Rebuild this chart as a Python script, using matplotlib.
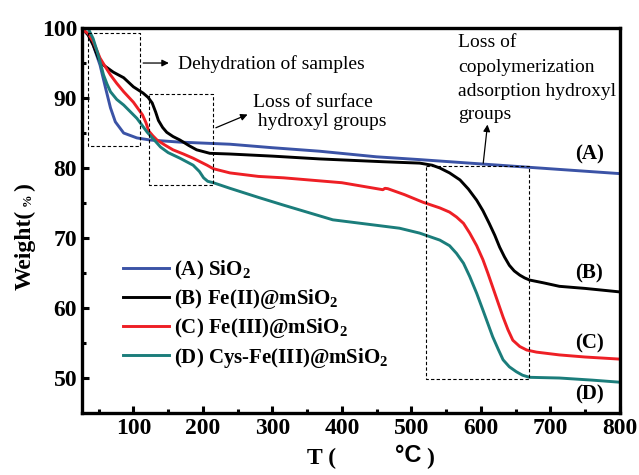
import matplotlib
matplotlib.use("Agg")
import matplotlib.pyplot as plt

plt.rcParams['font.family'] = ['Liberation Serif', 'DejaVu Serif']
plt.rcParams['mathtext.fontset'] = 'custom'
plt.rcParams['mathtext.rm'] = 'Liberation Serif'
plt.rcParams['mathtext.bf'] = 'Liberation Serif:bold'

# --- data ---
xA = [26, 35, 42, 52, 60, 67, 74, 86, 105, 124, 167, 239, 300, 368, 450, 512, 598, 713, 800]
yA = [100.0, 99.0, 97.6, 94.7, 91.4, 88.6, 86.6, 85.0, 84.3, 84.0, 83.7, 83.4, 82.9, 82.4, 81.6,
      81.2, 80.6, 79.8, 79.2]

xB = [26, 35, 42, 50, 57, 64, 71, 86, 100, 114, 121, 127, 132, 136, 142, 148, 157, 167, 180, 191,
      210, 239, 300, 368, 459, 512, 530, 541, 555, 570, 582, 594, 603, 612, 620, 627, 634, 641, 648,
      656, 663, 670, 690, 713, 750, 800]
yB = [100.0, 99.0, 97.6, 95.6, 94.7, 94.2, 93.7, 92.9, 91.6, 90.7, 90.1, 89.3, 88.0, 86.8, 85.8,
      85.1, 84.5, 84.0, 83.2, 82.6, 82.1, 82.0, 81.7, 81.3, 80.9, 80.7, 80.4, 80.0, 79.3, 78.3, 77.0,
      75.4, 73.9, 72.1, 70.4, 68.7, 67.3, 66.1, 65.3, 64.7, 64.3, 64.0, 63.6, 63.1, 62.8, 62.3]

xC = [26, 35, 42, 52, 60, 67, 76, 86, 100, 113, 118, 122, 128, 134, 145, 157, 172, 186, 206, 215,
      239, 280, 316, 400, 459, 462, 466, 490, 517, 541, 555, 565, 575, 584, 594, 603, 610, 617, 625,
      632, 639, 646, 656, 666, 680, 713, 750, 800]
yC = [99.8, 99.2, 98.1, 95.7, 94.4, 93.3, 92.1, 90.9, 89.4, 87.6, 86.5, 85.3, 84.6, 84.0, 83.3,
      82.6, 82.0, 81.4, 80.4, 79.9, 79.3, 78.8, 78.6, 77.9, 76.9, 77.1, 77.05, 76.2, 75.1, 74.3, 73.7,
      73.0, 72.1, 70.7, 68.9, 66.9, 65.0, 63.0, 60.7, 58.7, 56.9, 55.4, 54.5, 54.0, 53.7, 53.3, 53.0,
      52.7]

xD = [35, 42, 48, 53, 57, 62, 67, 76, 86, 105, 120, 130, 139, 150, 167, 186, 195, 201, 207, 215,
      239, 280, 316, 387, 483, 512, 541, 555, 565, 575, 584, 594, 603, 610, 617, 625, 632, 641, 651,
      660, 670, 713, 760, 800]
yD = [99.9, 98.5, 96.6, 94.8, 93.3, 92.0, 90.9, 89.8, 89.0, 87.1, 85.1, 84.0, 83.0, 82.2, 81.4,
      80.4, 79.5, 78.6, 78.1, 77.9, 77.1, 75.8, 74.7, 72.6, 71.4, 70.7, 69.7, 68.9, 67.8, 66.4, 64.5,
      62.1, 59.7, 57.8, 55.9, 54.1, 52.6, 51.6, 50.9, 50.4, 50.1, 50.0, 49.7, 49.4]

labels = [r'(A) SiO$_\mathbf{2}$', r'(B) Fe(II)@mSiO$_\mathbf{2}$',
          r'(C) Fe(III)@mSiO$_\mathbf{2}$', r'(D) Cys-Fe(III)@mSiO$_\mathbf{2}$']
colors = ['#3b53a6', '#000000', '#ee1f25', '#1b7d7b']
tags = ['(A)', '(B)', '(C)', '(D)']
tag_y = [81.9, 65.0, 54.9, 47.6]

fig = plt.figure(figsize=(6.39, 4.75), dpi=100)
ax = fig.add_axes([0.1283, 0.1305, 0.8417, 0.8105])

for xs, ys, c, lab in zip([xA, xB, xC, xD], [yA, yB, yC, yD], colors, labels):
    ax.plot(xs, ys, color=c, lw=2.1, label=lab, solid_joinstyle='round')

ax.set_xlim(26, 800)
ax.set_ylim(45, 100)
ax.set_xticks([100, 200, 300, 400, 500, 600, 700, 800])
ax.set_xticks([50, 150, 250, 350, 450, 550, 650, 750], minor=True)
ax.set_yticks([50, 60, 70, 80, 90, 100])
ax.set_yticks([55, 65, 75, 85, 95], minor=True)
for s in ax.spines.values():
    s.set_linewidth(2.4)
ax.tick_params(which='major', direction='in', length=5, width=2.2, labelsize=17)
ax.tick_params(which='minor', direction='in', length=3, width=2.2)
for t in ax.get_xticklabels() + ax.get_yticklabels():
    t.set_fontweight('bold')

leg = ax.legend(loc='upper left', bbox_to_anchor=(0.076, 0.40), frameon=False,
                prop={'weight': 'bold', 'size': 15}, handlelength=2.2,
                handletextpad=0.25, labelspacing=0.25, borderpad=0, borderaxespad=0)

for t, y in zip(tags, tag_y):
    ax.text(756, y, t, fontsize=15, fontweight='bold', ha='center', va='center')

# dashed boxes
dash = dict(color='black', lw=0.8, ls=(0, (3, 2)))
ax.plot([34, 110, 110, 34, 34], [99.3, 99.3, 83.1, 83.1, 99.3], **dash)
ax.plot([123, 215, 215, 123, 123], [90.6, 90.6, 77.6, 77.6, 90.6], **dash)
ax.plot([521, 669, 669, 521, 521], [80.3, 80.3, 49.9, 49.9, 80.3], **dash)

arr = dict(arrowstyle='-|>', color='black', lw=0.9, mutation_scale=10)
ax.annotate('', xy=(155, 95.0), xytext=(110, 95.0), arrowprops=arr)
ax.text(164, 94.9, 'Dehydration of samples', fontsize=14, va='center')

ax.annotate('', xy=(268, 87.8), xytext=(215, 85.6), arrowprops=arr)
ax.text(272, 89.4, 'Loss of surface', fontsize=14, va='center')
ax.text(272, 86.6, ' hydroxyl groups', fontsize=14, va='center')

ax.annotate('', xy=(610, 86.6), xytext=(603, 80.3), arrowprops=arr)
for line, y in zip(['Loss of', 'copolymerization', 'adsorption hydroxyl', 'groups'],
                   [97.9, 94.3, 90.9, 87.6]):
    ax.text(567, y, line, fontsize=14, va='center')

# axis titles
fig.text(322 / 639, 1 - 458 / 475, 'T (', fontsize=17, fontweight='bold', ha='center', va='center')
fig.text(408 / 639, 1 - 456 / 475, '°C', fontsize=17, family='Liberation Sans', fontweight='bold',
         ha='center', va='center')
fig.text(430 / 639, 1 - 458 / 475, ')', fontsize=17, fontweight='bold', ha='center', va='center')

fig.text(25 / 639, 1 - 250 / 475, 'Weight(', fontsize=17, fontweight='bold', rotation=90,
         ha='center', va='center')
fig.text(28 / 639, 1 - 200 / 475, '%', fontsize=9, fontweight='bold', rotation=90,
         ha='center', va='center')
fig.text(25 / 639, 1 - 187 / 475, ')', fontsize=17, fontweight='bold', rotation=90,
         ha='center', va='center')

fig.savefig('out.png', dpi=100)
